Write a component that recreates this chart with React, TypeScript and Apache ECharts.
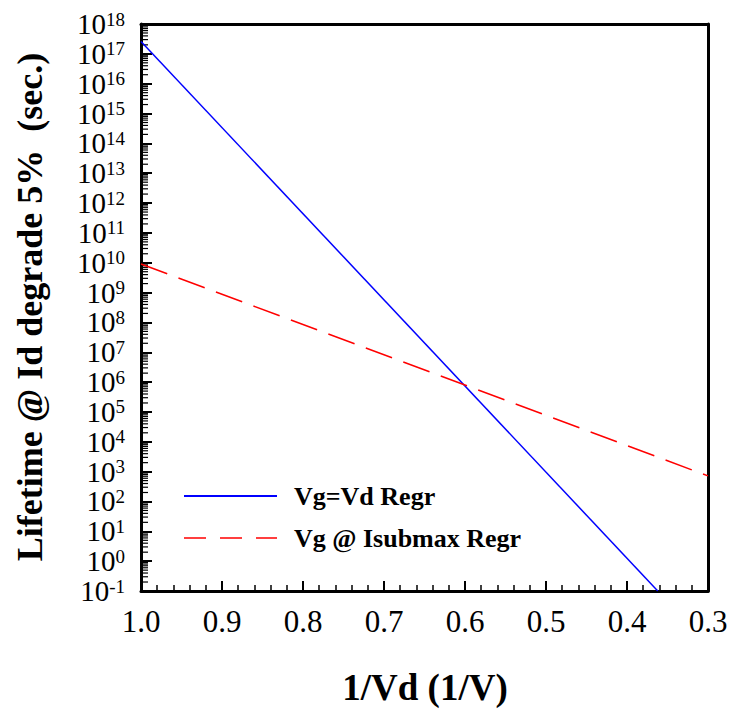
import React, { useEffect, useRef } from "react";
import * as echarts from "echarts";

// Regression lines (x = 1/Vd, y = lifetime in seconds)
const seriesNames = ["Vg=Vd Regr", "Vg @ Isubmax Regr"];
const vgVdX = [1.0, 0.362];
const vgVdY = [2.6e17, 0.1];
const isubX = [1.0, 0.3];
const isubY = [9.1e9, 7.2e2];

// Axis ticks and titles
const yExponents = [-1, 0, 1, 2, 3, 4, 5, 6, 7, 8, 9, 10, 11, 12, 13, 14, 15, 16, 17, 18];
const yMinorMultipliers = [2, 3, 4, 5, 6, 7, 8, 9];
const xMin = 0.3;
const xMax = 1.0;
const xInterval = 0.1;
const yMin = 0.1;
const yMax = 1e18;
const xTitle = "1/Vd (1/V)";
const yTitle = "Lifetime @ Id degrade 5%  (sec.)";

const FONT = "'Liberation Serif', 'Times New Roman', serif";

export default function App() {
  const ref = useRef<HTMLDivElement>(null);
  useEffect(() => {
    if (!ref.current) return;
    const chart = echarts.init(ref.current, null, { renderer: "svg" });
    const minorVals: number[] = [];
    yExponents.slice(0, -1).forEach((e) => {
      yMinorMultipliers.forEach((m) => minorVals.push(m * Number("1e" + e)));
    });
    const frameAxis = {
      axisLine: { show: true, onZero: false, lineStyle: { color: "#000", width: 3 } },
      axisTick: { show: false },
      axisLabel: { show: false },
      splitLine: { show: false },
    };
    const option: any = {
      animation: false,
      grid: { left: 141, top: 24, right: 23, bottom: 119 },
      graphic: [
        {
          type: "text",
          x: 30,
          y: 307,
          rotation: Math.PI / 2,
          style: {
            text: yTitle,
            fontFamily: FONT,
            fontSize: 36,
            fontWeight: "bold",
            fill: "#000",
            align: "center",
            verticalAlign: "middle",
          },
        },
        {
          type: "text",
          x: 425,
          y: 687,
          style: {
            text: xTitle,
            fontFamily: FONT,
            fontSize: 37,
            fontWeight: "bold",
            fill: "#000",
            align: "center",
            verticalAlign: "middle",
          },
        },
        {
          type: "line",
          shape: { x1: 184, y1: 496, x2: 277, y2: 496 },
          style: { stroke: "#0000ff", lineWidth: 2 },
        },
        {
          type: "text",
          x: 294,
          y: 496,
          style: {
            text: seriesNames[0],
            fontFamily: FONT,
            fontSize: 26,
            fontWeight: "bold",
            fill: "#000",
            align: "left",
            verticalAlign: "middle",
          },
        },
        {
          type: "line",
          shape: { x1: 184, y1: 538, x2: 277, y2: 538 },
          style: { stroke: "#ff0000", lineWidth: 1.5, lineDash: [22, 14] },
        },
        {
          type: "text",
          x: 294,
          y: 538,
          style: {
            text: seriesNames[1],
            fontFamily: FONT,
            fontSize: 26,
            fontWeight: "bold",
            fill: "#000",
            align: "left",
            verticalAlign: "middle",
          },
        },
      ],
      xAxis: [
        {
          type: "value",
          inverse: true,
          min: xMin,
          max: xMax,
          interval: xInterval,
          position: "bottom",
          axisLine: { show: true, onZero: false, lineStyle: { color: "#000", width: 3 } },
          axisTick: { show: true, inside: true, length: 10, lineStyle: { color: "#000", width: 2 } },
          minorTick: { show: true, splitNumber: 5, length: 6, lineStyle: { color: "#000", width: 1.5 } },
          splitLine: { show: false },
          axisLabel: {
            show: true,
            fontFamily: FONT,
            fontSize: 31,
            color: "#000",
            margin: 15,
            formatter: (v: number) => v.toFixed(1),
          },
        },
        { type: "value", inverse: true, min: xMin, max: xMax, interval: xInterval, position: "top", ...frameAxis },
      ],
      yAxis: [
        {
          type: "log",
          logBase: 10,
          min: yMin,
          max: yMax,
          interval: 1,
          position: "left",
          axisLine: { show: true, onZero: false, lineStyle: { color: "#000", width: 3 } },
          axisTick: { show: true, inside: true, length: 11, lineStyle: { color: "#000", width: 2 } },
          splitLine: { show: false },
          axisLabel: {
            show: true,
            margin: 16,
            fontSize: 29,
            fontFamily: FONT,
            color: "#000",
            formatter: (v: number) => `{b|10}{s|${Math.round(Math.log10(v))}}`,
            rich: {
              b: { fontFamily: FONT, fontSize: 29, color: "#000", lineHeight: 29 },
              s: { fontFamily: FONT, fontSize: 19, color: "#000", verticalAlign: "top", lineHeight: 19 },
            },
          },
        },
        { type: "log", logBase: 10, min: yMin, max: yMax, interval: 1, position: "right", ...frameAxis },
      ],
      series: [
        {
          name: seriesNames[0],
          type: "line",
          data: vgVdX.map((x, i) => [x, vgVdY[i]]),
          symbol: "none",
          lineStyle: { color: "#0000ff", width: 1.5 },
          itemStyle: { color: "#0000ff" },
        },
        {
          name: seriesNames[1],
          type: "line",
          data: isubX.map((x, i) => [x, isubY[i]]),
          symbol: "none",
          lineStyle: { color: "#ff0000", width: 1.5, type: [28, 12] },
          itemStyle: { color: "#ff0000" },
        },
        {
          name: "minorTicks",
          type: "custom",
          silent: true,
          clip: false,
          data: minorVals.map((v) => [xMax, v]),
          renderItem: (params: any, api: any) => {
            const p = api.coord([api.value(0), api.value(1)]);
            return {
              type: "line",
              shape: { x1: p[0], y1: p[1], x2: p[0] + 7, y2: p[1] },
              style: { stroke: "#000", lineWidth: 1.2 },
            };
          },
        },
      ],
    };
    chart.setOption(option);
    return () => chart.dispose();
  }, []);
  return (
    <div
      ref={ref}
      style={{ position: "absolute", left: 0, top: 0, width: 731, height: 710 }}
    />
  );
}
